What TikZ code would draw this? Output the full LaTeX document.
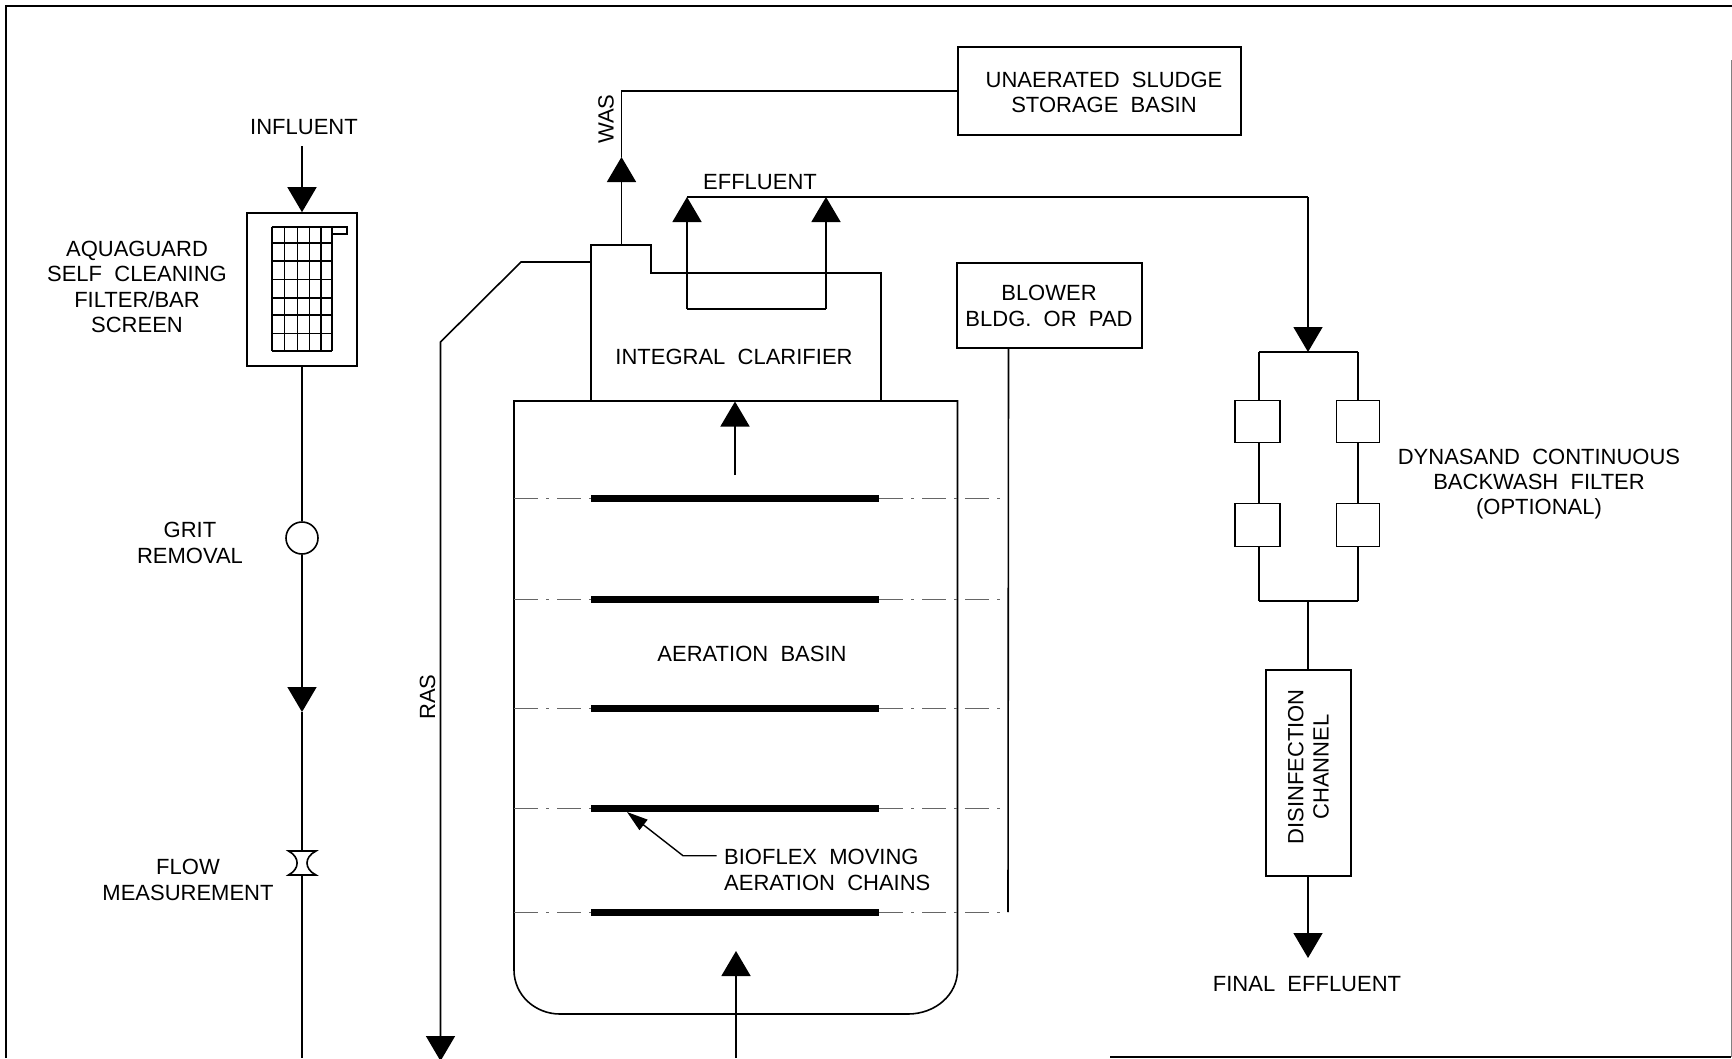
\documentclass[tikz,border=0pt]{standalone}
\usepackage{fontspec}
\setmainfont{Liberation Sans}
\usetikzlibrary{arrows.meta}
\tikzset{
  ln/.style={draw=black,line width=1.6pt},
  flow/.style={ln,-{Triangle[length=25pt,width=29pt]},shorten >=0pt},
  lbl/.style={font=\fontsize{22}{25.2}\selectfont,align=center,inner sep=0pt,text=black},
  box/.style={ln,fill=white,inner sep=0pt,minimum width=#1},
  chain/.style={draw=black,line width=7pt},
  tieline/.style={draw=black!60,line width=0.9pt,dash pattern=on 24pt off 8pt on 3pt off 8pt},
  grid line/.style={draw=black,line width=1.6pt},
  pt/.style={inner sep=0pt,minimum size=0pt,outer sep=0pt}
}
\begin{document}
\begin{tikzpicture}[x=1pt,y=-1pt,line join=miter]
\useasboundingbox (0,0) rectangle (1732,1058);
\fill[white] (0,0) rectangle (1732,1058);
\begin{scope}
\clip (0,0) rectangle (1732,1058);
% page frame
\draw[ln] (6,1058) -- (6,6) -- (1732,6);
\draw[draw=black!50,line width=1pt] (1731,60) -- (1731,1057);
\draw[ln] (1731,1057) -- (1110,1057);

% shapes with names
\node[box=110pt,minimum height=153pt] (filter) at (302,289.5) {};
\node[ln,circle,fill=white,minimum size=32pt,inner sep=0pt] (grit) at (302,538) {};
\node[pt] (flowm) at (302,863) {};
\node[box=283pt,minimum height=87.5pt] (sludge) at (1099.5,91) {};
\node[box=185pt,minimum height=85pt] (blower) at (1049.5,305.5) {};
\node[box=85pt,minimum height=205.5pt] (disinf) at (1308.5,773) {};

% filter grid
\foreach \gx in {271.7,284.3,297.3,309.3,320.7,331.7}
  \draw[grid line] (\gx,226.7) -- (\gx,350.7);
\foreach \gy in {226.7,242.7,260.7,279.3,298,315,333.3,350.7}
  \draw[grid line] (271.7,\gy) -- (331.7,\gy);
\draw[grid line] (331.7,226.7) rectangle (347,234);

% influent line
\coordinate (inflstart) at (302,146);
\draw[flow] (inflstart) -- (filter.north);
\draw[ln] (filter.south) -- (grit.north);
\coordinate (gritarrow) at (302,712);
\draw[flow] (grit.south) -- (gritarrow);
\draw[ln] (gritarrow) -- (flowm.north);
\coordinate (inflend) at (302,1058);
\draw[ln] (flowm.south) -- (inflend);

% flow-measurement flume
\draw[ln,fill=white] (288.5,851) -- (316,851) .. controls (304,857) and (304,869) .. (316,875)
  -- (288.5,875) .. controls (300,869) and (300,857) .. (288.5,851) -- cycle;

% aeration basin
\draw[ln] (514,401) -- (514,970) .. controls (514,995) and (535,1014) .. (560,1014)
  -- (908,1014) .. controls (935,1014) and (957.5,995) .. (957.5,970) -- (957.5,401) -- cycle;
% clarifier
\draw[ln] (591,401) -- (591,245) -- (651,245) -- (651,273) -- (881,273) -- (881,401);

% RAS
\coordinate (rasa) at (591,262);
\coordinate (rasb) at (521,262);
\coordinate (rasc) at (440.5,342);
\coordinate (rasd) at (440.5,1061);
\draw[flow] (rasa) -- (rasb) -- (rasc) -- (rasd);

% WAS
\coordinate (wasa) at (621.5,245);
\coordinate (wasb) at (621.5,157);
\draw[flow] (wasa) -- (wasb);
\draw[ln] (wasb) |- (sludge.west);

% effluent
\coordinate (effl) at (687,309);
\coordinate (effr) at (826,309);
\coordinate (efftl) at (687,197);
\coordinate (efftr) at (826,197);
\draw[ln] (effl) -- (effr);
\draw[flow] (effl) -- (efftl);
\draw[flow] (effr) -- (efftr);
\coordinate (effc) at (1308,197);
\coordinate (dynatop) at (1308,352);
\draw[ln] (efftl) -- (effc);
\draw[flow] (effc) -- (dynatop);

% dynasand filter
\coordinate (colL) at (1259,400);
\coordinate (colR) at (1358,400);
\coordinate (dynabot) at (1308,601);
\draw[ln] (colL |- dynatop) -- (colR |- dynatop);
\draw[ln] (colL |- dynabot) -- (colR |- dynabot);
\draw[ln] (colL |- dynatop) -- (colL |- dynabot);
\draw[ln] (colR |- dynatop) -- (colR |- dynabot);
\node[box=45pt,minimum height=42pt] (fa) at (1257.5,421.5) {};
\node[box=43pt,minimum height=42pt] (fb) at (1358,421.5) {};
\node[box=45pt,minimum height=43pt] (fc) at (1257.5,525) {};
\node[box=43pt,minimum height=43pt] (fd) at (1358,525) {};
\draw[ln] (dynabot) -- (disinf.north -| dynabot);
\coordinate (finaltip) at (1308,958);
\draw[flow] (disinf.south -| finaltip) -- (finaltip);

% internal flow arrows
\coordinate (upa) at (735,475);
\coordinate (upb) at (735,401.5);
\draw[flow] (upa) -- (upb);
\coordinate (inb) at (736,1058);
\coordinate (inc) at (736,951);
\draw[flow] (inb) -- (inc);

% aeration chains
\foreach \cy/\cn in {498/a,599/b,708/c,808/d,912/e}{
  \coordinate (cl\cn) at (591,\cy);
  \coordinate (cr\cn) at (879,\cy);
  \coordinate (wl\cn) at (514,\cy);
  \coordinate (wr\cn) at (1008,\cy);
  \draw[tieline] (wl\cn) -- (cl\cn);
  \draw[tieline] (cr\cn) -- (wr\cn);
  \draw[chain] (cl\cn) -- (cr\cn);
}
% blower header
\draw[ln] (1008.5,348) -- (wre);

% bioflex leader
\coordinate (leada) at (716.7,855.7);
\coordinate (leadb) at (683,855.7);
\coordinate (leadc) at (627,812);
\draw[draw=black,line width=1.4pt,-{Triangle[length=21pt,width=13pt]}] (leada) -- (leadb) -- (leadc);

% labels
\node[lbl] (t1) at (304,127) {INFLUENT};
\node[lbl] (t2) at (137,287) {AQUAGUARD\\SELF\ \ CLEANING\\FILTER/BAR\\SCREEN};
\node[lbl] (t3) at (190,543) {GRIT\\REMOVAL};
\node[lbl] (t4) at (188,880) {FLOW\\MEASUREMENT};
\node[lbl,rotate=90] (t5) at (427.5,697) {RAS};
\node[lbl,rotate=90] (t6) at (606,119) {WAS};
\node[lbl] (t7) at (760,182) {EFFLUENT};
\node[lbl] (t8) at (1104,92.5) {UNAERATED\ \ SLUDGE\\STORAGE\ \ BASIN};
\node[lbl] (t9) at (1049,306) {BLOWER\\BLDG.\ \ OR\ \ PAD};
\node[lbl] (t10) at (734,357) {INTEGRAL\ \ CLARIFIER};
\node[lbl] (t11) at (752,654) {AERATION\ \ BASIN};
\node[lbl,anchor=west,align=left] (t12) at (724,870) {BIOFLEX\ \ MOVING\\AERATION\ \ CHAINS};
\node[lbl] (t13) at (1539,484) {DYNASAND\ \ CONTINUOUS\\BACKWASH\ \ FILTER\\(OPTIONAL)};
\node[lbl,rotate=90] (t14) at (1308.5,767) {DISINFECTION\\CHANNEL};
\node[lbl] (t15) at (1307,984) {FINAL\ \ EFFLUENT};
\end{scope}
\end{tikzpicture}
\end{document}
